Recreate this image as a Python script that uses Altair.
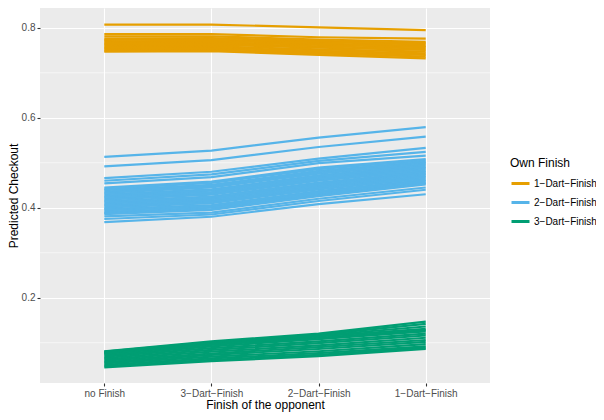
import altair as alt
import pandas as pd

categories = ["no Finish", "3−Dart−Finish", "2−Dart−Finish", "1−Dart−Finish"]
own_finish = ["1−Dart−Finish", "2−Dart−Finish", "3−Dart−Finish"]
colors = ["#E69F00", "#56B4E9", "#009E73"]

# predicted checkout per line, values at the 4 opponent-finish categories
orange_lines = [
    [0.807, 0.807, 0.801, 0.795],
    [0.786, 0.786, 0.779, 0.776],
    [0.781, 0.781, 0.774, 0.769],
    [0.776, 0.777, 0.771, 0.766],
    [0.773, 0.774, 0.768, 0.763],
    [0.770, 0.771, 0.765, 0.760],
    [0.767, 0.768, 0.762, 0.757],
    [0.764, 0.765, 0.759, 0.754],
    [0.761, 0.762, 0.756, 0.751],
    [0.758, 0.759, 0.752, 0.747],
    [0.755, 0.756, 0.749, 0.743],
    [0.752, 0.753, 0.746, 0.740],
    [0.749, 0.750, 0.743, 0.736],
    [0.747, 0.748, 0.740, 0.732],
]

blue_lines = [
    [0.513, 0.527, 0.556, 0.579],
    [0.492, 0.506, 0.535, 0.558],
    [0.466, 0.480, 0.509, 0.533],
    [0.460, 0.474, 0.504, 0.524],
    [0.454, 0.468, 0.499, 0.516],
    [0.445, 0.458, 0.489, 0.508],
    [0.442, 0.455, 0.486, 0.505],
    [0.439, 0.451, 0.482, 0.502],
    [0.436, 0.448, 0.479, 0.500],
    [0.433, 0.445, 0.476, 0.497],
    [0.430, 0.441, 0.472, 0.494],
    [0.427, 0.438, 0.469, 0.491],
    [0.424, 0.435, 0.466, 0.488],
    [0.421, 0.432, 0.463, 0.485],
    [0.418, 0.429, 0.460, 0.482],
    [0.415, 0.425, 0.456, 0.479],
    [0.412, 0.422, 0.453, 0.476],
    [0.409, 0.419, 0.450, 0.474],
    [0.406, 0.416, 0.447, 0.471],
    [0.403, 0.413, 0.444, 0.468],
    [0.400, 0.410, 0.441, 0.465],
    [0.397, 0.406, 0.437, 0.462],
    [0.394, 0.403, 0.434, 0.459],
    [0.391, 0.400, 0.431, 0.456],
    [0.388, 0.397, 0.428, 0.454],
    [0.386, 0.395, 0.426, 0.452],
    [0.381, 0.389, 0.420, 0.445],
    [0.375, 0.385, 0.415, 0.440],
    [0.368, 0.380, 0.408, 0.430],
]

green_lines = [
    [0.081, 0.103, 0.120, 0.147],
    [0.080, 0.101, 0.118, 0.142],
    [0.078, 0.099, 0.116, 0.136],
    [0.077, 0.097, 0.114, 0.131],
    [0.075, 0.095, 0.111, 0.128],
    [0.072, 0.092, 0.108, 0.125],
    [0.069, 0.088, 0.103, 0.120],
    [0.066, 0.084, 0.099, 0.116],
    [0.063, 0.080, 0.094, 0.111],
    [0.060, 0.076, 0.090, 0.106],
    [0.057, 0.073, 0.086, 0.102],
    [0.054, 0.069, 0.081, 0.097],
    [0.051, 0.065, 0.077, 0.092],
    [0.048, 0.062, 0.073, 0.089],
    [0.045, 0.059, 0.070, 0.086],
]

minor_grid = [0.1, 0.3, 0.5, 0.7]
major_ticks = [0.2, 0.4, 0.6, 0.8]

rows = []
for grp, lines in zip(own_finish, [orange_lines, blue_lines, green_lines]):
    for i, vals in enumerate(lines):
        for cat, v in zip(categories, vals):
            rows.append({"opp": cat, "pred": v, "own": grp, "line": f"{grp}_{i}"})
df = pd.DataFrame(rows)

y_scale = alt.Scale(domain=[0.0104, 0.844], nice=False, zero=False)
x_scale = alt.Scale(type="point", domain=categories, padding=0.6)
y_axis = alt.Axis(title="Predicted Checkout", values=major_ticks, format=".1f",
                  grid=True, gridColor="white", gridWidth=1.1,
                  titleX=-32, titleBaseline="top")

minor = alt.Chart(pd.DataFrame({"g": minor_grid})).mark_rule(
    color="white", strokeWidth=0.55
).encode(y=alt.Y("g:Q", scale=y_scale, axis=y_axis))

lines = alt.Chart(df).mark_line(strokeWidth=2.2).encode(
    x=alt.X("opp:N", scale=x_scale, sort=categories,
            axis=alt.Axis(title="Finish of the opponent", grid=True, gridColor="white",
                          gridWidth=1.1, labelAngle=0, titlePadding=1)),
    y=alt.Y("pred:Q", scale=y_scale, axis=y_axis),
    color=alt.Color("own:N", scale=alt.Scale(domain=own_finish, range=colors),
                    legend=alt.Legend(title="Own Finish", orient="none",
                                      legendX=470, legendY=150,
                                      symbolType="stroke", symbolSize=324,
                                      symbolStrokeWidth=3, rowPadding=2,
                                      titleFontSize=12, labelFontSize=10,
                                      titleFontWeight="normal", titleColor="black",
                                      labelColor="black", titlePadding=3,
                                      labelOffset=3)),
    detail="line:N",
)

chart = alt.layer(minor, lines).properties(
    width=450, height=375,
    autosize=alt.AutoSizeParams(type="none"),
    padding={"left": 32, "top": 0, "right": 106, "bottom": 29},
    background="white",
).configure_view(fill="#EBEBEB", stroke=None).configure_axis(
    domain=False, tickColor="#333333", tickSize=3, tickWidth=1.1,
    labelColor="#4D4D4D", labelFontSize=10, labelFont="Liberation Sans",
    labelPadding=2,
    titleFont="Liberation Sans", titleFontSize=12, titleFontWeight="normal",
    titleColor="black",
).configure_legend(labelFont="Liberation Sans", titleFont="Liberation Sans")

chart.save("out.html", embed_options={"renderer": "svg", "actions": False})
